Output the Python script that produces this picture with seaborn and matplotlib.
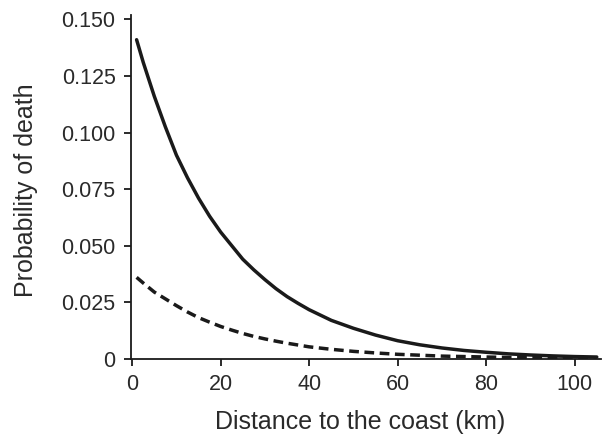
import matplotlib
matplotlib.use("Agg")
import matplotlib.pyplot as plt
import seaborn as sns
import pandas as pd

distance_km = [1, 2.5, 5, 7.5, 10, 12.5, 15, 17.5, 20, 22.5, 25, 27.5, 30, 32.5, 35, 37.5, 40, 45, 50, 55,
               60, 65, 70, 75, 80, 85, 90, 95, 100, 105]
prob_solid = [0.141, 0.131, 0.116, 0.1025, 0.090, 0.080, 0.071, 0.063, 0.056, 0.050, 0.044, 0.0393,
              0.035, 0.031, 0.0275, 0.0245, 0.0217, 0.017, 0.0135, 0.0105, 0.0080, 0.0062, 0.0048,
              0.0037, 0.0029, 0.0022, 0.0017, 0.0013, 0.0010, 0.0008]
prob_dashed = [0.036, 0.0335, 0.0295, 0.0265, 0.0235, 0.0207, 0.0182, 0.0162, 0.0143, 0.0127, 0.0112,
               0.0099, 0.0088, 0.0078, 0.0069, 0.0061, 0.0053, 0.0042, 0.0033, 0.0026, 0.0020, 0.0016,
               0.0012, 0.0010, 0.0008, 0.0006, 0.0005, 0.0004, 0.0003, 0.0002]
x_ticks = [0, 20, 40, 60, 80, 100]
y_ticks = [0, 0.025, 0.05, 0.075, 0.1, 0.125, 0.15]
y_tick_labels = ["0", "0.025", "0.050", "0.075", "0.100", "0.125", "0.150"]

sns.set_theme(style="ticks")
plt.rcParams['font.family'] = ['Liberation Sans', 'DejaVu Sans']

df = pd.DataFrame({"d": distance_km, "solid": prob_solid, "dashed": prob_dashed})

fig = plt.figure(figsize=(6.03, 4.36), dpi=100)
ax = fig.add_axes([0.217, 0.177, 0.78, 0.789])

sns.lineplot(data=df, x="d", y="solid", ax=ax, color="#1a1a1a", linewidth=2.5)
sns.lineplot(data=df, x="d", y="dashed", ax=ax, color="#1a1a1a", linewidth=2.5)
ax.lines[1].set_dashes([2.8, 1.6])

ax.set_xlim(-0.3, 106)
ax.set_ylim(0, 0.152)
ax.set_xticks(x_ticks)
ax.set_yticks(y_ticks)
ax.set_yticklabels(y_tick_labels)
ax.tick_params(labelsize=15.5, length=5, width=1.3, color="#1a1a1a", labelcolor="#2a2a2a", pad=6)
for s in ["left", "bottom"]:
    ax.spines[s].set_linewidth(1.3)
    ax.spines[s].set_color("#1a1a1a")
sns.despine(ax=ax)
ax.set_xlabel("Distance to the coast (km)", fontsize=18, color="#2a2a2a")
ax.set_ylabel("Probability of death", fontsize=18, color="#2a2a2a")
ax.xaxis.set_label_coords(0.487, -0.148)
ax.yaxis.set_label_coords(-0.197, 0.49)

fig.savefig("out.png", dpi=100)
